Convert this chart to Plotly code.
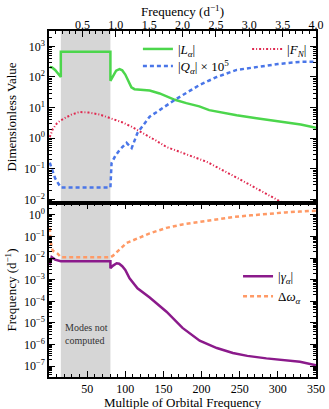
import plotly.graph_objects as go
from plotly.subplots import make_subplots

# orbital frequency (d^-1): 350 x f_orb = 4.0 d^-1 on the top axis
f_orb = 4.0 / 350

# --- upper panel data (x = multiple of orbital frequency) ---
n_L = [1, 4, 8, 12, 15.5, 15.5, 80.5, 80.5, 84, 88, 92.5, 96, 100, 104, 108, 112,
       120, 132, 145, 165, 180, 197, 210, 230, 246, 272, 285, 300, 315, 330, 350]
L_abs = [210, 205, 170, 125, 100, 660, 660, 75, 110, 160, 180, 165, 120, 70, 46, 40,
         38, 36, 29, 18, 14, 11, 8.3, 6.5, 5.6, 4.5, 4.0, 3.5, 3.2, 2.8, 2.2]

n_F = [1, 5, 10, 15, 21, 30, 40, 52, 66, 80.5, 95, 108, 119, 140, 154, 180, 207, 250, 298, 350]
F_abs = [1.1, 2.0, 3.0, 3.8, 4.6, 6.0, 7.2, 6.9, 6.0, 4.6, 3.4, 2.4, 1.7, 0.85, 0.52,
         0.30, 0.17, 0.046, 0.010, 0.002]

n_Q = [1, 4, 8, 11, 15.5, 80.5, 81, 82, 87, 92.7, 101.7, 108.4, 116, 128, 132, 145,
       165, 197.5, 220, 246, 272, 300, 328, 350]
Q_abs = [0.16, 0.09, 0.05, 0.037, 0.025, 0.025, 0.06, 0.155, 0.27, 0.42, 0.71, 0.48,
         1.5, 4.0, 5.1, 8.3, 18, 55, 100, 170, 215, 265, 310, 316]  # |Q_a| x 1e5

# --- lower panel data ---
n_g = [1, 3.5, 8, 15.5, 80.5, 80.5, 84, 88.7, 92, 96, 100, 105.6, 116, 132, 154, 175,
       197.5, 220, 241, 260, 285, 310, 329, 350]
gamma_abs = [0.0047, 0.011, 0.0085, 0.0071, 0.0071, 0.0034, 0.0045, 0.0058, 0.0055,
             0.0042, 0.0028, 0.00115, 0.0004, 0.00015, 3.3e-5, 5.9e-6, 1.5e-6, 6.9e-7,
             4.1e-7, 3.0e-7, 2.3e-7, 1.9e-7, 1.6e-7, 1.1e-7]

n_dw = [1, 2.5, 4.8, 11.4, 15.5, 80.5, 84, 88.7, 101.7, 116, 132, 154, 175, 197.5,
        220, 241, 265, 285, 310, 329, 350]
d_omega = [0.25, 0.05, 0.022, 0.016, 0.011, 0.011, 0.013, 0.019, 0.05, 0.081, 0.14,
           0.25, 0.36, 0.47, 0.62, 0.79, 0.95, 1.12, 1.3, 1.42, 1.55]

gap = [15.5, 80.5]  # modes not computed
freq_ticks = [0.5, 1.0, 1.5, 2.0, 2.5, 3.0, 3.5, 4.0]
n_ticks = [50, 100, 150, 200, 250, 300, 350]

FONT = "Liberation Serif, Times New Roman, serif"

fig = make_subplots(rows=2, cols=1, vertical_spacing=0)

fig.add_trace(go.Scatter(x=n_L, y=L_abs, mode="lines", name="|<i>L</i><sub><i>α</i></sub>|",
                         line=dict(color="#4cd64c", width=2.5), legend="legend"), 1, 1)
fig.add_trace(go.Scatter(x=n_F, y=F_abs, mode="lines", name="|<i>F</i><sub><i>N</i></sub>|",
                         line=dict(color="#e0284f", width=2, dash="2px,2px,1px,2px"),
                         legend="legend2"), 1, 1)
fig.add_trace(go.Scatter(x=n_Q, y=Q_abs, mode="lines",
                         name="|<i>Q</i><sub><i>α</i></sub>| × 10<sup>5</sup>",
                         line=dict(color="#4a76e8", width=2.5, dash="4px,3px"),
                         legend="legend3"), 1, 1)
fig.add_trace(go.Scatter(x=n_g, y=gamma_abs, mode="lines", name="|<i>γ</i><sub><i>α</i></sub>|",
                         line=dict(color="#8b1a8b", width=2.5), legend="legend4"), 2, 1)
fig.add_trace(go.Scatter(x=n_dw, y=d_omega, mode="lines", name="Δ<i>ω</i><sub><i>α</i></sub>",
                         line=dict(color="#ff9a66", width=2.5, dash="4px,3px"),
                         legend="legend4"), 2, 1)

# grey band where modes were not computed
for xr, yr in (("x", "y domain"), ("x2", "y2 domain")):
    fig.add_shape(type="rect", xref=xr, yref=yr, x0=gap[0], x1=gap[1], y0=0, y1=1,
                  fillcolor="#d6d6d6", line_width=0, layer="below")

fig.add_annotation(text="Modes not<br>computed", xref="x2", yref="paper", x=19, y=0.125,
                   xanchor="left", yanchor="middle", align="left", showarrow=False,
                   font=dict(size=10, color="#333333", family=FONT))

# axis titles of the top (frequency) and bottom axes
fig.add_annotation(text="Frequency (d<sup>−1</sup>)", xref="paper", yref="paper",
                   x=0.5, y=1.058, xanchor="center", yanchor="middle", showarrow=False,
                   font=dict(size=13, family=FONT, color="black"))
fig.add_annotation(text="Multiple of Orbital Frequency", xref="paper", yref="paper",
                   x=0.5, y=-0.074, xanchor="center", yanchor="middle", showarrow=False,
                   font=dict(size=13, family=FONT, color="black"))


def log_ticks(lo, hi):
    major = [10.0 ** k for k in range(lo, hi + 1)]
    text = ["10<sup>%d</sup>" % k if k >= 0 else "10<sup>−%d</sup>" % -k for k in range(lo, hi + 1)]
    minor = [m * 10.0 ** k for k in range(lo - 1, hi + 1) for m in range(2, 10)]
    return major, text, minor


axis_style = dict(showline=True, linecolor="black", linewidth=1.5, ticks="inside",
                  ticklen=6, tickwidth=1.2, tickcolor="black", showgrid=False,
                  zeroline=False, automargin=False,
                  tickfont=dict(size=12, family=FONT, color="black"))

maj, txt, mnr = log_ticks(-2, 3)
fig.update_yaxes(type="log", range=[-2.11, 3.5], domain=[0.503, 1], mirror="ticks",
                 tickmode="array", tickvals=maj, ticktext=txt,
                 minor=dict(tickmode="array", tickvals=mnr, ticks="inside", ticklen=3,
                            tickcolor="black", showgrid=False),
                 title=dict(text="Dimensionless Value", font=dict(size=13, family=FONT),
                            standoff=4),
                 row=1, col=1, **axis_style)
maj, txt, mnr = log_ticks(-7, 0)
fig.update_yaxes(type="log", range=[-7.5, 0.55], domain=[0, 0.503], mirror="ticks",
                 tickmode="array", tickvals=maj, ticktext=txt,
                 minor=dict(tickmode="array", tickvals=mnr, ticks="inside", ticklen=3,
                            tickcolor="black", showgrid=False),
                 title=dict(text="Frequency (d<sup>−1</sup>)", font=dict(size=13, family=FONT),
                            standoff=4),
                 row=2, col=1, **axis_style)

# top axis: frequency in d^-1
fig.update_xaxes(range=[0, 350], side="top", mirror=True, tickmode="array",
                 tickvals=[f / f_orb for f in freq_ticks],
                 ticktext=["%.1f" % f for f in freq_ticks], ticklabelstandoff=-5,
                 minor=dict(tickmode="array",
                            tickvals=[k * 0.1 / f_orb for k in range(1, 41)],
                            ticks="inside", ticklen=3, tickcolor="black", showgrid=False),
                 row=1, col=1, **axis_style)
fig.update_xaxes(range=[0, 350], mirror="ticks", tickmode="array", tickvals=n_ticks,
                 minor=dict(tickmode="array", tickvals=list(range(10, 351, 10)),
                            ticks="inside", ticklen=3, tickcolor="black", showgrid=False),
                 row=2, col=1, **axis_style)

leg = dict(bgcolor="rgba(0,0,0,0)", borderwidth=0, yanchor="middle", xanchor="left",
           font=dict(size=13, family=FONT, color="black"), itemwidth=30)
fig.update_layout(
    width=329, height=409,
    margin=dict(l=49, r=13, t=31, b=32),
    paper_bgcolor="white", plot_bgcolor="white",
    font=dict(family=FONT, color="black"),
    showlegend=True,
    legend=dict(x=0.333, y=0.948, **leg),
    legend2=dict(x=0.742, y=0.948, **leg),
    legend3=dict(x=0.333, y=0.899, **leg),
    legend4=dict(x=0.708, y=0.262, tracegroupgap=0, **leg),
)

fig.write_html("out.html", config=dict(displayModeBar=False),
               post_script="document.body.style.margin='0';document.body.style.overflow='hidden';")
